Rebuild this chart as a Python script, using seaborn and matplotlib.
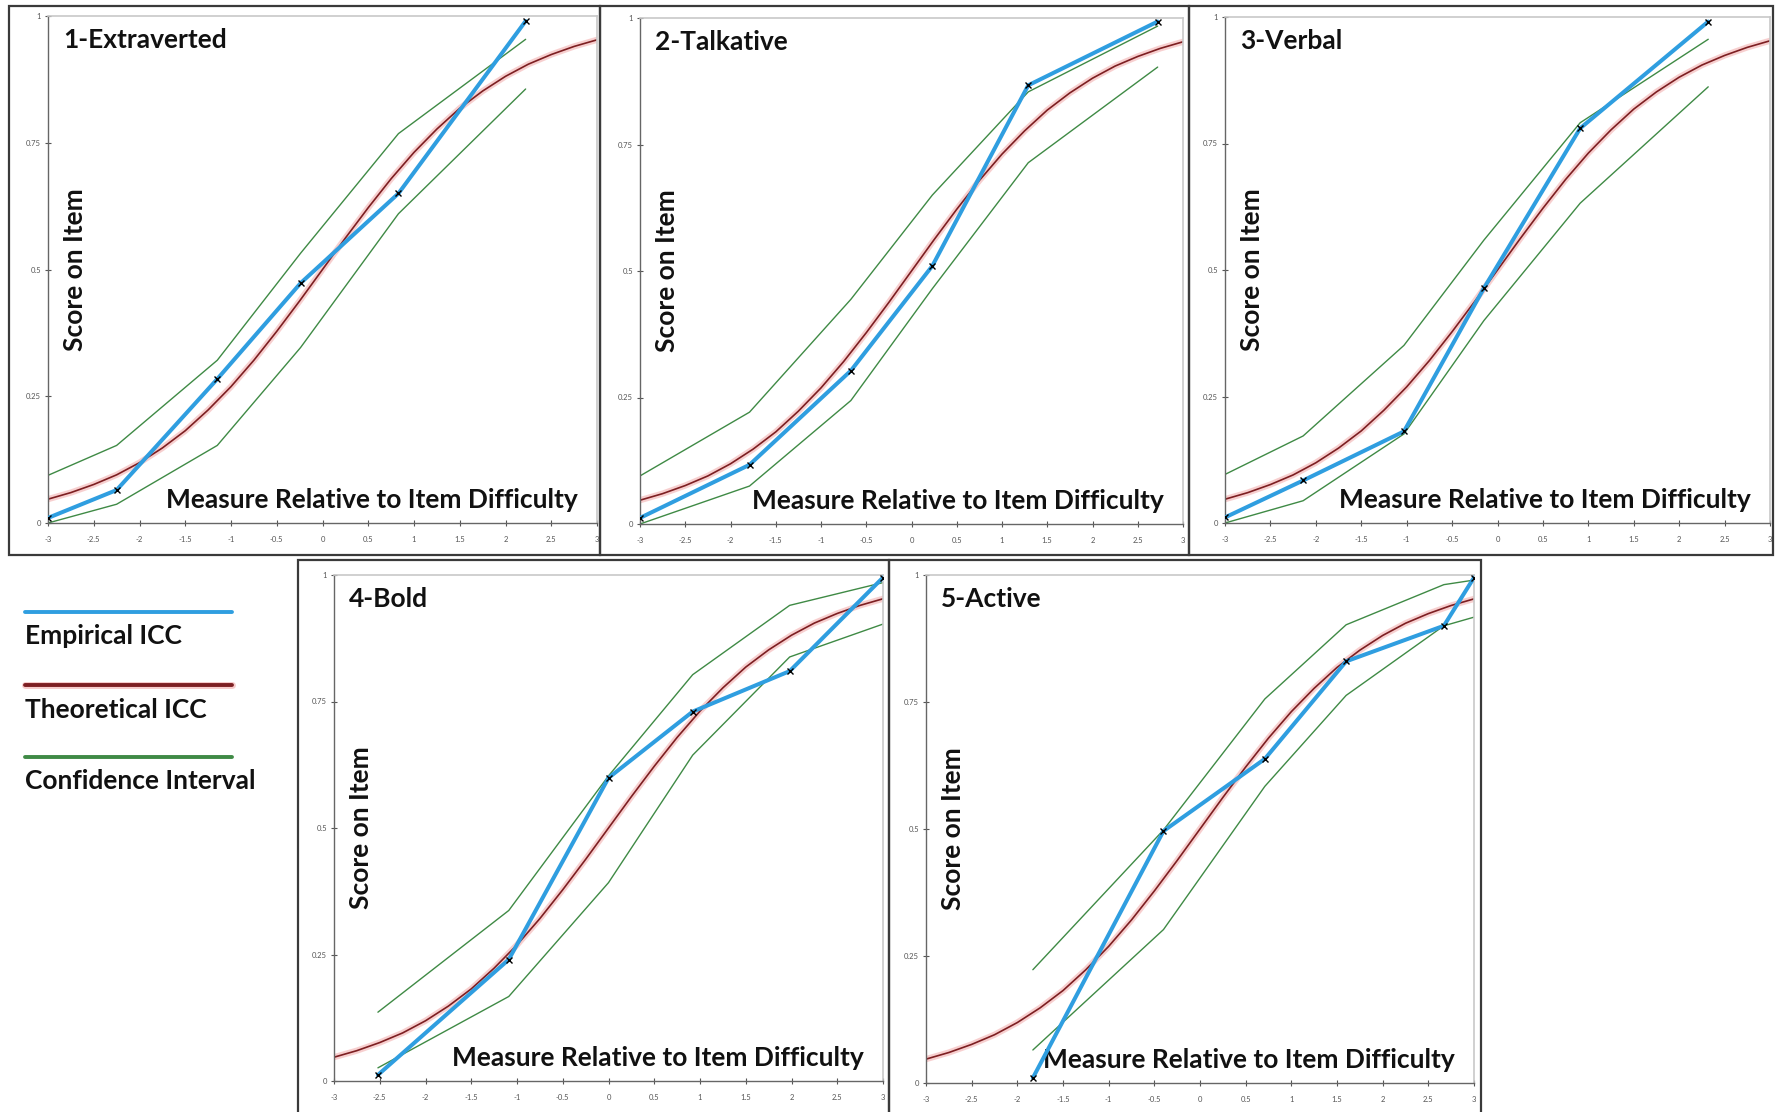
import numpy as np
import pandas as pd
import matplotlib
matplotlib.use("Agg")
import matplotlib.pyplot as plt
from matplotlib.lines import Line2D
from matplotlib.patches import Rectangle
import seaborn as sns

# theoretical ICC (same curve in every panel)
theory_x = [-3.0, -2.75, -2.5, -2.25, -2.0, -1.75, -1.5, -1.25, -1.0, -0.75, -0.5, -0.25, 0.0,
            0.25, 0.5, 0.75, 1.0, 1.25, 1.5, 1.75, 2.0, 2.25, 2.5, 2.75, 3.0]
theory_y = [0.047, 0.060, 0.076, 0.095, 0.119, 0.148, 0.182, 0.223, 0.269, 0.321, 0.378, 0.438, 0.5,
            0.562, 0.622, 0.679, 0.731, 0.777, 0.818, 0.852, 0.881, 0.905, 0.924, 0.940, 0.953]

titles = ["1-Extraverted", "2-Talkative", "3-Verbal", "4-Bold", "5-Active"]

# empirical ICC points per item
emp_x = [[-3.0, -2.25, -1.15, -0.24, 0.83, 2.22],
         [-3.0, -1.79, -0.67, 0.23, 1.29, 2.72],
         [-3.0, -2.14, -1.03, -0.15, 0.91, 2.32],
         [-2.52, -1.09, 0.0, 0.92, 1.98, 3.0],
         [-1.83, -0.40, 0.71, 1.60, 2.67, 3.0]]
emp_y = [[0.01, 0.065, 0.284, 0.473, 0.65, 0.99],
         [0.012, 0.117, 0.303, 0.51, 0.867, 0.993],
         [0.011, 0.084, 0.181, 0.464, 0.78, 0.991],
         [0.012, 0.24, 0.599, 0.73, 0.81, 0.995],
         [0.01, 0.496, 0.638, 0.83, 0.90, 0.995]]
# confidence interval bounds at the empirical points
ci_hi = [[0.094, 0.153, 0.321, 0.532, 0.768, 0.954],
         [0.095, 0.221, 0.444, 0.65, 0.854, 0.984],
         [0.096, 0.172, 0.351, 0.559, 0.791, 0.956],
         [0.136, 0.337, 0.603, 0.803, 0.94, 0.985],
         [0.223, 0.498, 0.756, 0.902, 0.981, 0.99]]
ci_lo = [[0.0, 0.037, 0.153, 0.346, 0.61, 0.856],
         [0.0, 0.075, 0.244, 0.465, 0.714, 0.903],
         [0.0, 0.044, 0.176, 0.40, 0.632, 0.862],
         [0.026, 0.167, 0.392, 0.644, 0.838, 0.903],
         [0.065, 0.302, 0.584, 0.763, 0.90, 0.917]]

x_ticks = [-3, -2.5, -2, -1.5, -1, -0.5, 0, 0.5, 1, 1.5, 2, 2.5, 3]
x_labels = ["-3", "-2.5", "-2", "-1.5", "-1", "-0.5", "0", "0.5", "1", "1.5", "2", "2.5", "3"]
y_ticks = [0, 0.25, 0.5, 0.75, 1]
y_labels = ["0", "0.25", "0.5", "0.75", "1"]

legend_names = ["Empirical ICC", "Theoretical ICC", "Confidence Interval"]

BLUE = "#2f9ee0"
RED = "#7d1f22"
PINK = "#f2a9a9"
GREEN = "#3f8a45"
TXT = 19

sns.set_theme(style="white")
plt.rcParams["font.family"] = ["Lato", "DejaVu Sans"]

W, H = 1775, 1112
fig = plt.figure(figsize=(W / 100, H / 100), dpi=100)

# axes rectangles in pixels (left, top, right, bottom) and outer frames
axes_px = [(48, 16, 597, 523), (640, 18, 1183, 524), (1225, 17, 1770, 523),
           (334, 575, 883, 1081), (926, 575, 1474, 1083)]
frames_px = [(9, 6, 600, 555), (600, 6, 1189, 555), (1189, 6, 1773, 555),
             (298, 560, 889, 1125), (889, 560, 1481, 1125)]

for (l, t, r, b) in frames_px:
    fig.add_artist(Rectangle((l / W, 1 - b / H), (r - l) / W, (b - t) / H,
                             transform=fig.transFigure, fill=False,
                             edgecolor="#3a3a3a", lw=1.6, zorder=0))

theory = pd.DataFrame({"x": theory_x, "y": theory_y})

for i, (l, t, r, b) in enumerate(axes_px):
    ax = fig.add_axes([l / W, 1 - b / H, (r - l) / W, (b - t) / H])
    sns.lineplot(data=theory, x="x", y="y", ax=ax, color=PINK, lw=4.5, alpha=0.55)
    sns.lineplot(data=theory, x="x", y="y", ax=ax, color=RED, lw=1.2)
    sns.lineplot(x=emp_x[i], y=ci_hi[i], ax=ax, color=GREEN, lw=1.0)
    sns.lineplot(x=emp_x[i], y=ci_lo[i], ax=ax, color=GREEN, lw=1.0)
    sns.lineplot(x=emp_x[i], y=emp_y[i], ax=ax, color=BLUE, lw=2.9,
                 marker="x", markersize=4, markeredgecolor="black",
                 markeredgewidth=1.0, zorder=5)
    ax.set_xlim(-3, 3)
    ax.set_ylim(0, 1)
    ax.set_xticks(x_ticks)
    ax.set_xticklabels(x_labels)
    ax.set_yticks(y_ticks)
    ax.set_yticklabels(y_labels)
    ax.tick_params(axis="x", direction="inout", length=5, width=0.8, pad=7,
                   labelsize=5.5, colors="#555555", bottom=True)
    ax.tick_params(axis="y", direction="inout", length=4, width=0.8, pad=3,
                   labelsize=5.5, colors="#555555", left=True)
    ax.set_xlabel("")
    ax.set_ylabel("")
    for side in ["top", "right"]:
        ax.spines[side].set_color("#c8c8c8")
        ax.spines[side].set_linewidth(1.2)
    for side in ["left", "bottom"]:
        ax.spines[side].set_color("#666666")
        ax.spines[side].set_linewidth(1.0)
    ax.text(0.027, 0.953, titles[i], transform=ax.transAxes, ha="left", va="center",
            fontsize=TXT, fontweight="bold", color="#111111")
    ax.text(0.05, 0.5, "Score on Item", transform=ax.transAxes, rotation=90,
            ha="center", va="center", fontsize=TXT, fontweight="bold", color="#111111")
    ax.text(0.965, 0.045, "Measure Relative to Item Difficulty", transform=ax.transAxes,
            ha="right", va="center", fontsize=TXT, fontweight="bold", color="#111111")

# legend drawn at the lower left
legend_colors = [BLUE, RED, GREEN]
line_y = [612, 685, 757]
text_y = [636, 710, 781]
for name, col, ly, ty in zip(legend_names, legend_colors, line_y, text_y):
    if col == RED:
        fig.add_artist(Line2D([25 / W, 232 / W], [1 - ly / H, 1 - ly / H], color=PINK,
                              lw=5, alpha=0.6, transform=fig.transFigure))
    fig.add_artist(Line2D([25 / W, 232 / W], [1 - ly / H, 1 - ly / H], color=col,
                          lw=2.8, transform=fig.transFigure))
    fig.text(25 / W, 1 - ty / H, name, ha="left", va="center", fontsize=TXT,
             fontweight="bold", color="#111111")

fig.savefig("out.png", dpi=100, facecolor="white")
